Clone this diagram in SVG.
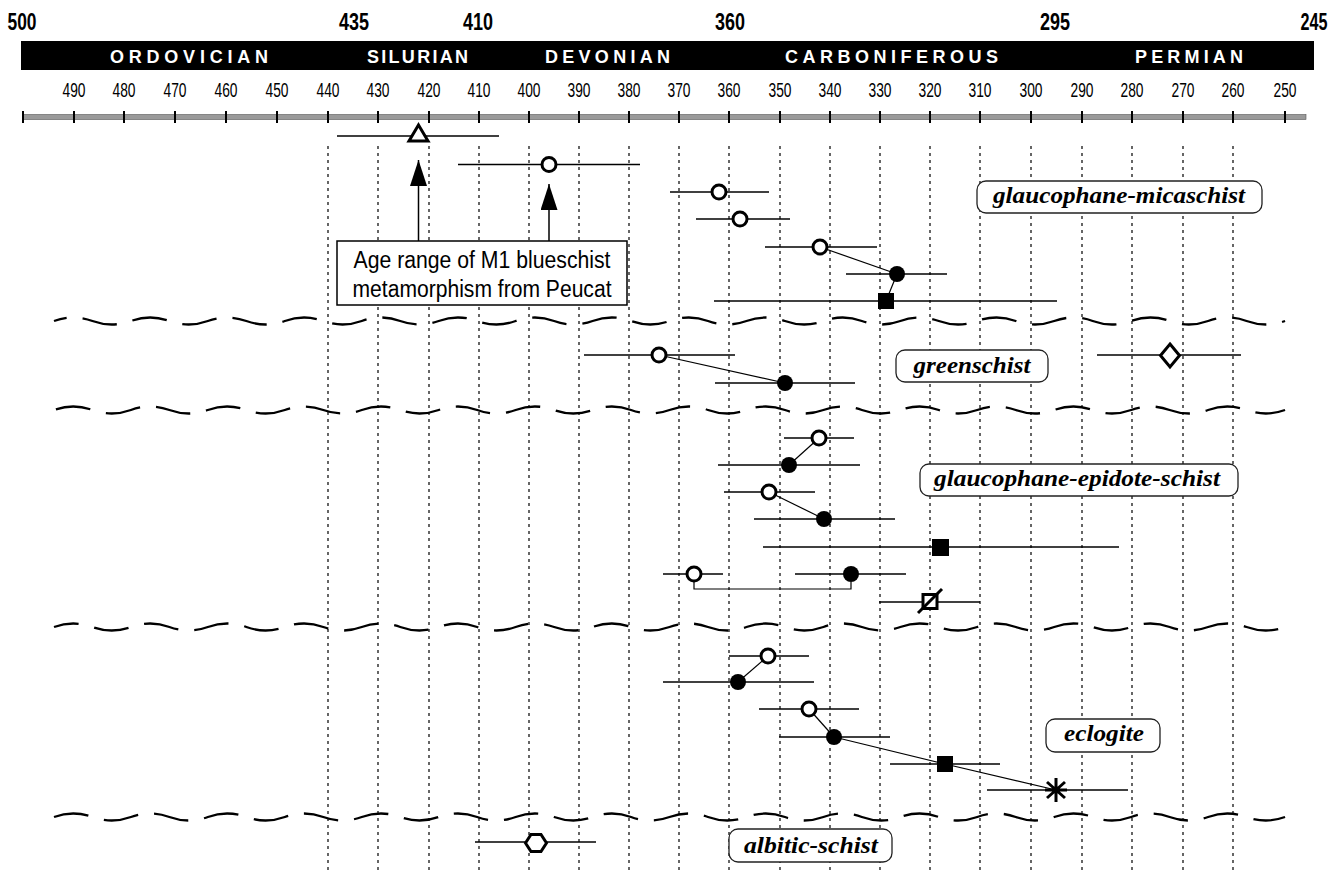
<svg xmlns="http://www.w3.org/2000/svg" xmlns:xlink="http://www.w3.org/1999/xlink" width="1342" height="871" viewBox="0 0 1342 871">
<style>
.bg{fill:#fff}
.hdr{font-family:"Liberation Sans",Arial,sans-serif;font-weight:bold;font-size:23px;text-anchor:middle;fill:#000}
.per{font-family:"Liberation Sans",Arial,sans-serif;font-weight:bold;font-size:18px;text-anchor:start;fill:#fff}
.tk{font-family:"Liberation Sans",Arial,sans-serif;font-size:20px;text-anchor:middle;fill:#000}
.tick{stroke:#000;stroke-width:2}
.dot{stroke:#000;stroke-width:1.2;stroke-dasharray:3 4;fill:none}
.wave{stroke:#000;stroke-width:2.3;fill:none;stroke-dasharray:35 16}
.bar{stroke:#000;stroke-width:1.5;fill:none}
.con{stroke:#000;stroke-width:1.2;fill:none}
.open{fill:#fff;stroke:#000;stroke-width:3}
.solid{fill:#000;stroke:none}
.thick{stroke:#000;stroke-width:3;fill:none}
.lbl rect{fill:#fff;stroke:#222;stroke-width:1.3}
.lbl text{font-family:"Liberation Serif","Times New Roman",serif;font-weight:bold;font-style:italic;font-size:23px;text-anchor:middle;fill:#000}
.note rect{fill:#fff;stroke:#000;stroke-width:1.5}
.note text{font-family:"Liberation Sans",Arial,sans-serif;font-size:23px;text-anchor:middle;fill:#000}
</style>
<defs>
<marker id="arr" markerUnits="userSpaceOnUse" markerWidth="26" markerHeight="18" refX="26" refY="8.5" orient="auto">
<path d="M0,0 L26,8.5 L0,17 z" fill="#000"/>
</marker>
<path id="wave" d="M54,0 q19.235,-7 38.47,0 t38.47,0 t38.47,0 t38.47,0 t38.47,0 t38.47,0 t38.47,0 t38.47,0 t38.47,0 t38.47,0 t38.47,0 t38.47,0 t38.47,0 t38.47,0 t38.47,0 t38.47,0 t38.47,0 t38.47,0 t38.47,0 t38.47,0 t38.47,0 t38.47,0 t38.47,0 t38.47,0 t38.47,0 t38.47,0 t38.47,0 t38.47,0 t38.47,0 t38.47,0 t38.47,0 t38.47,0"/>
</defs>
<rect class="bg" x="0" y="0" width="1342" height="871"/>

<g id="timescale">
<text class="hdr" x="22" y="30" textLength="29" lengthAdjust="spacingAndGlyphs">500</text>
<text class="hdr" x="354" y="30" textLength="30" lengthAdjust="spacingAndGlyphs">435</text>
<text class="hdr" x="478" y="30" textLength="30" lengthAdjust="spacingAndGlyphs">410</text>
<text class="hdr" x="730" y="30" textLength="30" lengthAdjust="spacingAndGlyphs">360</text>
<text class="hdr" x="1055" y="30" textLength="30" lengthAdjust="spacingAndGlyphs">295</text>
<text class="hdr" x="1314" y="30" textLength="27" lengthAdjust="spacingAndGlyphs">245</text>
<rect x="21" y="41" width="1293" height="29" fill="#000"/>
<text class="per" x="110" y="63" textLength="158" lengthAdjust="spacing">ORDOVICIAN</text>
<text class="per" x="367" y="63" textLength="101" lengthAdjust="spacing">SILURIAN</text>
<text class="per" x="545" y="63" textLength="125" lengthAdjust="spacing">DEVONIAN</text>
<text class="per" x="785" y="63" textLength="213" lengthAdjust="spacing">CARBONIFEROUS</text>
<text class="per" x="1135" y="63" textLength="108" lengthAdjust="spacing">PERMIAN</text>
<g>
<text class="tk" x="74" y="97" textLength="23" lengthAdjust="spacingAndGlyphs">490</text>
<text class="tk" x="124" y="97" textLength="23" lengthAdjust="spacingAndGlyphs">480</text>
<text class="tk" x="175" y="97" textLength="23" lengthAdjust="spacingAndGlyphs">470</text>
<text class="tk" x="226" y="97" textLength="23" lengthAdjust="spacingAndGlyphs">460</text>
<text class="tk" x="277" y="97" textLength="23" lengthAdjust="spacingAndGlyphs">450</text>
<text class="tk" x="328" y="97" textLength="23" lengthAdjust="spacingAndGlyphs">440</text>
<text class="tk" x="378" y="97" textLength="23" lengthAdjust="spacingAndGlyphs">430</text>
<text class="tk" x="429" y="97" textLength="23" lengthAdjust="spacingAndGlyphs">420</text>
<text class="tk" x="479" y="97" textLength="23" lengthAdjust="spacingAndGlyphs">410</text>
<text class="tk" x="529" y="97" textLength="23" lengthAdjust="spacingAndGlyphs">400</text>
<text class="tk" x="579" y="97" textLength="23" lengthAdjust="spacingAndGlyphs">390</text>
<text class="tk" x="629" y="97" textLength="23" lengthAdjust="spacingAndGlyphs">380</text>
<text class="tk" x="679" y="97" textLength="23" lengthAdjust="spacingAndGlyphs">370</text>
<text class="tk" x="729" y="97" textLength="23" lengthAdjust="spacingAndGlyphs">360</text>
<text class="tk" x="780" y="97" textLength="23" lengthAdjust="spacingAndGlyphs">350</text>
<text class="tk" x="830" y="97" textLength="23" lengthAdjust="spacingAndGlyphs">340</text>
<text class="tk" x="880" y="97" textLength="23" lengthAdjust="spacingAndGlyphs">330</text>
<text class="tk" x="930" y="97" textLength="23" lengthAdjust="spacingAndGlyphs">320</text>
<text class="tk" x="980" y="97" textLength="23" lengthAdjust="spacingAndGlyphs">310</text>
<text class="tk" x="1031" y="97" textLength="23" lengthAdjust="spacingAndGlyphs">300</text>
<text class="tk" x="1082" y="97" textLength="23" lengthAdjust="spacingAndGlyphs">290</text>
<text class="tk" x="1132" y="97" textLength="23" lengthAdjust="spacingAndGlyphs">280</text>
<text class="tk" x="1183" y="97" textLength="23" lengthAdjust="spacingAndGlyphs">270</text>
<text class="tk" x="1233" y="97" textLength="23" lengthAdjust="spacingAndGlyphs">260</text>
<text class="tk" x="1285" y="97" textLength="23" lengthAdjust="spacingAndGlyphs">250</text>
</g>
<rect x="23" y="114.5" width="1283" height="5" fill="#9a9a9a" stroke="#555" stroke-width="0.6"/>
<path class="tick" d="M23,111V123 M74,111V123 M124,111V123 M175,111V123 M226,111V123 M277,111V123 M328,111V123 M378,111V123 M429,111V123 M479,111V123 M529,111V123 M579,111V123 M629,111V123 M679,111V123 M729,111V123 M780,111V123 M830,111V123 M880,111V123 M930,111V123 M980,111V123 M1031,111V123 M1082,111V123 M1132,111V123 M1183,111V123 M1233,111V123 M1285,111V123"/>
</g>

<g id="gridlines">
<path class="dot" d="M328,146V871 M378,146V871 M429,146V871 M479,146V871 M529,146V871 M579,146V871 M629,146V871 M679,146V871 M729,146V871 M780,146V871 M830,146V871 M880,146V871 M930,146V871 M980,146V871 M1031,146V871 M1082,146V871 M1132,146V871 M1183,146V871 M1233,146V871"/>
</g>

<g id="separators">
<use xlink:href="#wave" href="#wave" y="321" class="wave" stroke-dashoffset="22"/>
<use xlink:href="#wave" href="#wave" y="410" class="wave" stroke-dashoffset="49"/>
<use xlink:href="#wave" href="#wave" y="627" class="wave" stroke-dashoffset="10"/>
<use xlink:href="#wave" href="#wave" y="817" class="wave" stroke-dashoffset="0"/>
</g>

<g id="connectors">
<path class="con" d="M820,247 L897,274"/>
<path class="con" d="M897,274 L886,301"/>
<path class="con" d="M659,355 L785,383"/>
<path class="con" d="M819,438 L789,465"/>
<path class="con" d="M769,492 L824,519"/>
<path class="con" d="M694,581 V589 H851 V582"/>
<path class="con" d="M768,656 L738,682"/>
<path class="con" d="M809,709 L834,737"/>
<path class="con" d="M834,737 L945,764 L1056,790"/>
<path class="bar" d="M418.5,241 V160" marker-end="url(#arr)"/>
<path class="bar" d="M549,241 V184" marker-end="url(#arr)"/>
</g>

<g id="p-triangle"><path class="bar" d="M337,136H499"/><path class="open" d="M418.5,125 L428,141 L409,141 z"/></g>
<g id="p-b"><path class="bar" d="M458,164.5H640"/><circle class="open" cx="549" cy="164.5" r="7"/></g>
<g id="p-c"><path class="bar" d="M670,192H769"/><circle class="open" cx="719" cy="192" r="7"/></g>
<g id="p-d"><path class="bar" d="M696,219H790"/><circle class="open" cx="740" cy="219" r="7"/></g>
<g id="p-e"><path class="bar" d="M765,247H877"/><circle class="open" cx="820" cy="247" r="7"/></g>
<g id="p-f"><path class="bar" d="M846,274H947"/><circle class="solid" cx="897" cy="274" r="8"/></g>
<g id="p-g"><path class="bar" d="M714,301H1057"/><rect class="solid" x="878" y="293" width="16" height="16"/></g>
<g id="p-h"><path class="bar" d="M584,355H735"/><circle class="open" cx="659" cy="355" r="7"/></g>
<g id="p-diamond"><path class="bar" d="M1097,355H1241"/><path class="open" d="M1170,344 L1179.5,355.5 L1170,367 L1160.5,355.5 z"/></g>
<g id="p-i"><path class="bar" d="M715,383H855"/><circle class="solid" cx="785" cy="383" r="8"/></g>
<g id="p-j"><path class="bar" d="M784,438H854"/><circle class="open" cx="819" cy="438" r="7"/></g>
<g id="p-k"><path class="bar" d="M718,465H860"/><circle class="solid" cx="789" cy="465" r="8"/></g>
<g id="p-l"><path class="bar" d="M724,492H815"/><circle class="open" cx="769" cy="492" r="7"/></g>
<g id="p-m"><path class="bar" d="M754,519H895"/><circle class="solid" cx="824" cy="519" r="8"/></g>
<g id="p-n"><path class="bar" d="M763,547H1119"/><rect class="solid" x="932" y="539" width="17" height="17"/></g>
<g id="p-o1"><path class="bar" d="M663,574H723"/><circle class="open" cx="694" cy="574" r="7"/></g>
<g id="p-o2"><path class="bar" d="M795,574H906"/><circle class="solid" cx="851" cy="574" r="8"/></g>
<g id="p-p"><path class="bar" d="M879,602H980"/><rect class="open" x="923" y="594.5" width="14" height="14"/><path class="thick" d="M918,613 L942,589"/></g>
<g id="p-q"><path class="bar" d="M729,656H809"/><circle class="open" cx="768" cy="656" r="7"/></g>
<g id="p-r"><path class="bar" d="M663,682H814"/><circle class="solid" cx="738" cy="682" r="8"/></g>
<g id="p-s"><path class="bar" d="M759,709H859"/><circle class="open" cx="809" cy="709" r="7"/></g>
<g id="p-t"><path class="bar" d="M779,737H890"/><circle class="solid" cx="834" cy="737" r="8"/></g>
<g id="p-u"><path class="bar" d="M890,764H1000"/><rect class="solid" x="937" y="756" width="16" height="16"/></g>
<g id="p-v"><path class="bar" d="M987,790H1128"/><path class="thick" d="M1056,778V802 M1047,782 L1065,798 M1047,798 L1065,782 M1045,790H1067"/></g>
<g id="p-w"><path class="bar" d="M475,842H596"/><path class="open" stroke-width="3.5" d="M525.5,843 L531,834.5 L541,834.5 L546.5,843 L541,851.5 L531,851.5 z"/></g>

<g id="note-m1" class="note">
<rect x="337" y="241" width="290" height="64"/>
<text x="482" y="268" textLength="257" lengthAdjust="spacingAndGlyphs">Age range of M1 blueschist</text>
<text x="482" y="297" textLength="259" lengthAdjust="spacingAndGlyphs">metamorphism from Peucat</text>
</g>

<g id="lbl-gms" class="lbl"><rect x="977" y="181" width="285" height="32" rx="9"/><text x="1119" y="203" textLength="252" lengthAdjust="spacingAndGlyphs">glaucophane-micaschist</text></g>
<g id="lbl-gs" class="lbl"><rect x="896" y="350" width="152" height="32" rx="9"/><text x="972" y="373" textLength="117" lengthAdjust="spacingAndGlyphs">greenschist</text></g>
<g id="lbl-ges" class="lbl"><rect x="920" y="464" width="318" height="32" rx="9"/><text x="1077" y="486" textLength="286" lengthAdjust="spacingAndGlyphs">glaucophane-epidote-schist</text></g>
<g id="lbl-ecl" class="lbl"><rect x="1046" y="719" width="114" height="33" rx="9"/><text x="1104" y="741" textLength="80" lengthAdjust="spacingAndGlyphs">eclogite</text></g>
<g id="lbl-alb" class="lbl"><rect x="729" y="829" width="163" height="33" rx="9"/><text x="811" y="853" textLength="134" lengthAdjust="spacingAndGlyphs">albitic-schist</text></g>
</svg>
